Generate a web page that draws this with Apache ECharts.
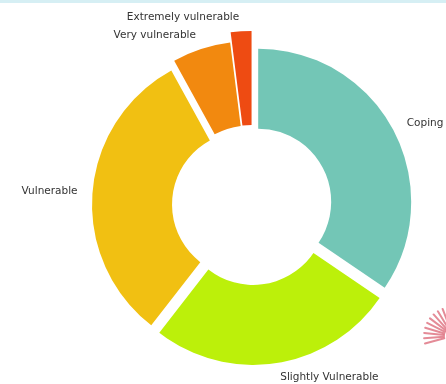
<!DOCTYPE html>
<html>
<head>
<meta charset="utf-8">
<script src="https://cdn.jsdelivr.net/npm/echarts@6/dist/echarts.min.js"></script>
<style>
  html, body { margin: 0; padding: 0; background: #ffffff; }
  #chart { width: 446px; height: 384px; }
</style>
</head>
<body>
<div id="chart"></div>
<script>
// Vulnerability groups, clockwise from 12 o'clock
const categories = ['Coping', 'Slightly Vulnerable', 'Vulnerable', 'Very vulnerable', 'Extremely vulnerable'];
// Share of households in each group (%)
const shares = [34.5, 26, 31.5, 6, 2];

// Styling
const sliceColors = ['#73C6B6', '#BCF00A', '#F1C012', '#F2890F', '#EE4B12'];
const innerRadius = 73;
const outerRadius = { 'Coping': 153, 'Slightly Vulnerable': 153, 'Vulnerable': 153, 'Very vulnerable': 157, 'Extremely vulnerable': 167 };

const chart = echarts.init(document.getElementById('chart'), null, { renderer: 'canvas' });

const labelStyle = {
  show: true,
  position: 'outside',
  formatter: '{b}',
  color: '#333333',
  fontSize: 10.5,
  fontFamily: 'DejaVu Sans',
  distanceToLabelLine: 0
};

// Each ring radius gets its own pie series over the full data set, so the
// angles stay shared while only the slices of that radius are painted.
function buildData(radius) {
  return categories.map((name, i) => {
    const visible = outerRadius[name] === radius;
    return {
      name: name,
      value: shares[i],
      selected: true,
      itemStyle: { color: visible ? sliceColors[i] : 'rgba(0,0,0,0)' },
      label: { show: visible }
    };
  });
}

const radii = Array.from(new Set(Object.values(outerRadius)));

const series = radii.map(r => ({
  type: 'pie',
  name: 'ring-' + r,
  center: [252, 205],
  radius: [innerRadius, r],
  startAngle: 90,
  clockwise: true,
  selectedMode: 'multiple',
  selectedOffset: 7,
  avoidLabelOverlap: false,
  silent: true,
  animation: false,
  label: labelStyle,
  labelLine: { show: false, length: 14, length2: 1 },
  emphasis: { disabled: true },
  data: buildData(r)
}));

// Fan emblem peeking in from the lower right corner
const fan = [];
for (let k = 0; k < 9; k++) {
  const a = (165 + k * 10.5) * Math.PI / 180;
  fan.push({
    type: 'line',
    silent: true,
    shape: {
      x1: 453 + 9 * Math.cos(a), y1: 336 + 9 * Math.sin(a),
      x2: 453 + 29 * Math.cos(a), y2: 336 + 29 * Math.sin(a)
    },
    style: { stroke: '#d95a6b', lineWidth: 2, opacity: 0.7, lineCap: 'round' }
  });
}

chart.setOption({
  backgroundColor: '#ffffff',
  graphic: [
    // thin tinted band along the top edge
    { type: 'rect', silent: true, shape: { x: 0, y: 0, width: 446, height: 3 }, style: { fill: '#d6eff4' } }
  ].concat(fan),
  series: series
});
</script>
</body>
</html>
